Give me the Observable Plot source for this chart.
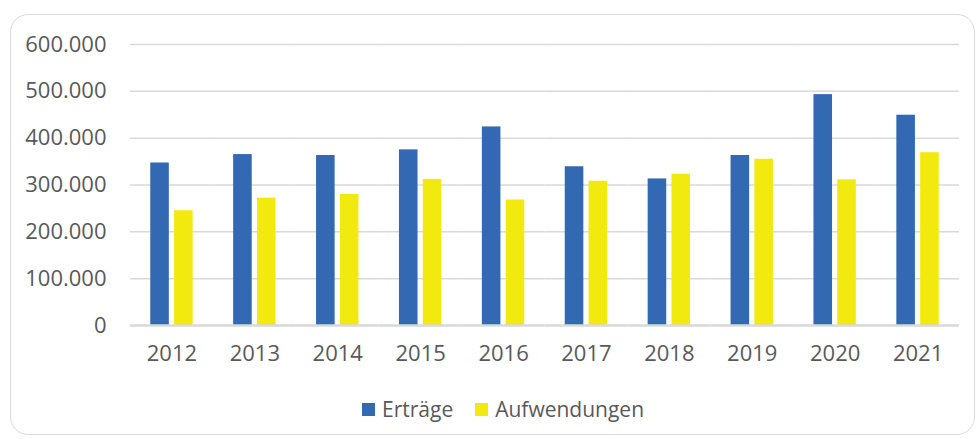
<!DOCTYPE html>
<html>
<head>
<meta charset="utf-8">
<script src="https://cdn.jsdelivr.net/npm/d3@7"></script>
<script src="https://cdn.jsdelivr.net/npm/@observablehq/plot@0.6"></script>
<style>
  html, body { margin: 0; padding: 0; background: #fff; }
  body { width: 979px; height: 439px; position: relative; overflow: hidden; font-family: 'Open Sans', sans-serif; }
  #frame { position: absolute; left: 10px; top: 14px; width: 965px; height: 421px; border: 1.5px solid #d9d9d9; border-radius: 18px; box-sizing: border-box; }
  #chart { position: absolute; left: 0; top: 0; }
  #legend { position: absolute; top: 397px; left: 362px; display: flex; align-items: center; font-size: 21px; color: #595959; line-height: 24px; }
  #legend .item { display: flex; align-items: center; margin-right: 22px; }
  #legend .sw { width: 13px; height: 13px; margin-right: 7px; }
</style>
</head>
<body>
<div id="frame"></div>
<div id="chart"></div>
<div id="legend"></div>
<script>
const years = ["2012", "2013", "2014", "2015", "2016", "2017", "2018", "2019", "2020", "2021"];
const ertraege = [347000, 365000, 363000, 375000, 424000, 339000, 313000, 363000, 493000, 449000];
const aufwendungen = [245000, 272000, 280000, 312000, 268000, 308000, 323000, 355000, 311000, 369000];
const series = ["Erträge", "Aufwendungen"];
const colors = ["#3369B3", "#F2EA0E"];
const yTicks = [0, 100000, 200000, 300000, 400000, 500000, 600000];

const de = d3.formatLocale({decimal: ",", thousands: ".", grouping: [3], currency: ["", " €"]});
const fmt = de.format(",");

const data = years.flatMap((yr, i) => [
  {year: yr, series: series[0], value: ertraege[i]},
  {year: yr, series: series[1], value: aufwendungen[i]}
]);

const chart = Plot.plot({
  width: 979,
  height: 375,
  marginLeft: 130,
  marginRight: 20,
  marginTop: 44,
  marginBottom: 50,
  style: {fontFamily: "'Open Sans', sans-serif", fontSize: "22px", color: "#595959", background: "transparent", overflow: "visible"},
  fx: {domain: years, padding: 0, round: false, label: null, axis: "bottom", tickSize: 0, tickPadding: 20},
  x: {domain: series, paddingInner: 0.22, paddingOuter: 0.85, round: false, axis: null},
  y: {domain: [0, 600000], ticks: yTicks, tickFormat: fmt, tickSize: 0, tickPadding: 24, label: null},
  color: {domain: series, range: colors},
  marks: [
    Plot.ruleY(yTicks.slice(1), {stroke: "#d9d9d9", strokeOpacity: 1, strokeWidth: 1.5}),
    Plot.barY(data, {fx: "year", x: "series", y: "value", fill: "series"}),
    Plot.ruleY([0], {stroke: "#d9d9d9", strokeOpacity: 1, strokeWidth: 2.5})
  ]
});
document.getElementById("chart").appendChild(chart);

const legend = document.getElementById("legend");
series.forEach((s, i) => {
  const item = document.createElement("div");
  item.className = "item";
  const sw = document.createElement("div");
  sw.className = "sw";
  sw.style.background = colors[i];
  const label = document.createElement("span");
  label.textContent = s;
  item.appendChild(sw);
  item.appendChild(label);
  legend.appendChild(item);
});
</script>
</body>
</html>
